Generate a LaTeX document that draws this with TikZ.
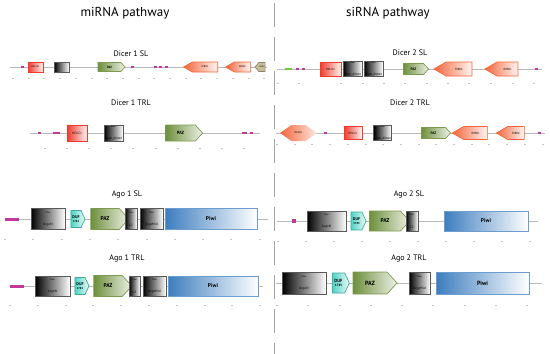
\documentclass[tikz,border=0pt]{standalone}
\usepackage{fontspec}
\setmainfont{PT Sans}
\usepackage{xcolor}
\usepackage{tikz}
\usetikzlibrary{shapes.symbols}

\definecolor{helicred}{HTML}{EE3B2C}
\definecolor{ribored}{HTML}{F2663A}
\definecolor{pazgreen}{HTML}{6E8F3C}
\definecolor{piwiblue}{HTML}{3D7DBF}
\definecolor{dufteal}{HTML}{4FD3C4}
\definecolor{motifpink}{HTML}{C2399B}
\definecolor{dsrmtan}{HTML}{C9BC98}
\definecolor{smgreen}{HTML}{7DC242}

\newcommand{\fs}[1]{\fontsize{#1}{#1}\selectfont}
\newcommand{\pf}[1]{{\fs{2.2}Pfam}\\[0.6pt]{\fs{3.4}#1}}

\begin{document}
\begin{tikzpicture}[x=1pt, y=-1pt,
  trk/.style={draw=gray!55, line width=0.9pt},
  tck/.style={draw=gray!45, line width=0.3pt},
  ttl/.style={font=\fs{13}},
  lbl/.style={font=\fs{8}},
  dom/.style={inner sep=0pt, outer sep=0pt, align=center, line width=0.7pt},
  helic/.style={dom, rectangle, draw=helicred, left color=helicred, right color=helicred!6, font=\fs{2.6}},
  pfam/.style={dom, rectangle, draw=black!65, left color=black, right color=white, line width=0.9pt},
  paz/.style={dom, signal, signal to=east, signal pointer angle=95, draw=pazgreen!90, left color=pazgreen, right color=pazgreen!12, font=\bfseries\fs{3}},
  ribo/.style={dom, signal, signal to=west, signal pointer angle=60, draw=ribored, left color=ribored, right color=ribored!6, font=\fs{2.6}},
  dead/.style={dom, signal, signal to=east and west, signal pointer angle=70, draw=none, left color=ribored, right color=ribored!15, font=\fs{2.6}},
  dsrm/.style={dom, signal, signal to=west, signal pointer angle=100, draw=dsrmtan!70!black, fill=dsrmtan, font=\fs{2}},
  duf/.style={dom, signal, signal to=east, signal pointer angle=130, draw=dufteal!80!black, left color=dufteal, right color=dufteal!10, font=\bfseries\fs{4}},
  piwi/.style={dom, rectangle, draw=piwiblue!75, left color=piwiblue, right color=white, line width=1pt, font=\bfseries\fs{5.5}},
  mot/.style={inner sep=0pt, fill=motifpink, minimum width=3pt, minimum height=2pt}]
\useasboundingbox (0,0) rectangle (550,354);

% titles and divider
\node[ttl] (mi) at (125,13) {miRNA pathway};
\node[ttl] (si) at (388,13) {siRNA pathway};
\coordinate (dvt) at (274,3);
\coordinate (dvb) at (274,354);
\draw[gray!70, line width=0.8pt, dash pattern=on 24pt off 10pt] (dvt) -- (dvb);

% Dicer 1 SL
\node[lbl] (d1s) at (131,54) {Dicer 1 SL};
\coordinate (d1sl) at (10,67); \coordinate (d1sr) at (267,67);
\draw[trk] (d1sl) -- (d1sr);
\foreach \i in {0,...,16} \draw[tck] ({12+15.7*\i},78) -- ++(2,0);
\node[mot] (d1sm1) at (22,67) {};
\node[helic, minimum width=15pt, minimum height=10pt] (d1sh) at (35.5,67) {HELICc};
\node[pfam, minimum width=15pt, minimum height=10pt, font=\fs{2}] (d1sp) at (61.5,67) {};
\node[paz, minimum width=27pt, minimum height=9pt] (d1sz) at (109.5,67) {PAZ};
\foreach \x in {132,155,160,166} \node[mot] at (\x,67) {};
\node[ribo, minimum width=34pt, minimum height=10pt] (d1sr1) at (205,67) {RIBOc};
\node[ribo, minimum width=25pt, minimum height=10pt] (d1sr2) at (242.5,67) {RIBOc};
\node[dsrm, minimum width=10pt, minimum height=9pt] (d1sd) at (262,67) {DSRM};

% Dicer 1 TRL
\node[lbl] (d1t) at (131,103) {Dicer 1 TRL};
\coordinate (d1tl) at (30,133); \coordinate (d1tr) at (260,133);
\draw[trk] (d1tl) -- (d1tr);
\foreach \i in {0,...,9} \draw[tck] ({44+22.1*\i},148) -- ++(2,0);
\node[mot] (d1tm1) at (39,133) {};
\node[mot, minimum width=7pt] (d1tm2) at (56.5,133) {};
\node[helic, minimum width=20pt, minimum height=16pt, font=\fs{3.2}] (d1th) at (77,133) {HELICc};
\node[pfam, minimum width=19pt, minimum height=16pt] (d1tp) at (113.5,133) {\pf{Dicer\_dimer}};
\node[paz, minimum width=37pt, minimum height=16pt, font=\bfseries\fs{4.5}] (d1tz) at (180.5,133) {PAZ};
\node[mot, minimum width=5pt] (d1tm3) at (244.5,133) {};
\node[mot] (d1tm4) at (251.5,133) {};

% Dicer 2 SL
\node[lbl] (d2s) at (410,53) {Dicer 2 SL};
\coordinate (d2sl) at (277,69); \coordinate (d2sr) at (542,69);
\draw[trk] (d2sl) -- (d2sr);
\foreach \x in {277,298,340,362,383,404,426,447,468,490,512,533} \draw[tck] (\x,83) -- ++(2,0);
\node[inner sep=0pt, fill=smgreen, minimum width=7pt, minimum height=2.5pt] (d2sg) at (288.5,69) {};
\foreach \x in {297,303,436,536} \node[mot] at (\x,69) {};
\node[helic, minimum width=21pt, minimum height=14pt, font=\fs{3}] (d2sh) at (330.5,69) {HELICc};
\node[pfam, minimum width=19pt, minimum height=14pt] (d2sp1) at (352.5,69) {\pf{Dicer\_dimer}};
\node[pfam, minimum width=19pt, minimum height=14pt] (d2sp2) at (373.5,69) {\pf{Dicer\_dimer}};
\node[paz, minimum width=25pt, minimum height=11pt, font=\bfseries\fs{3.5}] (d2sz) at (413.5,69) {PAZ};
\node[ribo, minimum width=38pt, minimum height=14pt, font=\fs{3}] (d2sr1) at (459,69) {RIBOc};
\node[ribo, minimum width=33pt, minimum height=14pt, font=\fs{3}] (d2sr2) at (507.5,69) {RIBOc};

% Dicer 2 TRL
\node[lbl] (d2t) at (410,103) {Dicer 2 TRL};
\coordinate (d2tl) at (276,133); \coordinate (d2tr) at (545,133);
\draw[trk] (d2tl) -- (d2tr);
\foreach \i in {0,...,15} \draw[tck] ({276+17.7*\i},144) -- ++(2,0);
\node[dead, minimum width=37pt, minimum height=16pt] (d2td) at (298.5,133) {DEXDc};
\foreach \x in {325,455,539} \node[mot] at (\x,133) {};
\node[helic, minimum width=18pt, minimum height=13pt, font=\fs{3}] (d2th) at (353,133) {HELICc};
\node[pfam, minimum width=17pt, minimum height=13pt] (d2tp) at (382.5,133) {\pf{Dicer\_dimer}};
\node[paz, minimum width=29pt, minimum height=11pt, font=\bfseries\fs{3.5}] (d2tz) at (433.5,133) {PAZ};
\node[ribo, minimum width=35pt, minimum height=13pt, font=\fs{3}] (d2tr1) at (475.5,133) {RIBOc};
\node[ribo, minimum width=28pt, minimum height=13pt, font=\fs{3}] (d2tr2) at (516,133) {RIBOc};

% Ago 1 SL
\node[lbl] (a1s) at (127,194) {Ago 1 SL};
\coordinate (a1sl) at (5,219); \coordinate (a1sr) at (268,219);
\draw[trk] (a1sl) -- (a1sr);
\foreach \i in {0,...,9} \draw[tck] ({4+28.3*\i},239) -- ++(2,0);
\node[mot, minimum width=14pt, minimum height=3pt] (a1sm) at (12,219) {};
\node[pfam, minimum width=34pt, minimum height=21pt] (a1sn) at (48,219) {\pf{ArgoN}};
\node[duf, minimum width=14pt, minimum height=17pt] (a1sd) at (76,219) {DUF\\[-0.5pt]{\fs{2.8}1785}};
\node[paz, minimum width=38pt, minimum height=21pt, font=\bfseries\fs{5.5}] (a1sz) at (105,219) {PAZ};
\node[pfam, minimum width=12pt, minimum height=21pt] (a1sl2) at (131,219) {\pf{L2}};
\node[pfam, minimum width=23pt, minimum height=21pt] (a1sm2) at (151.5,219) {\pf{ArgoMid}};
\node[piwi, minimum width=92pt, minimum height=21pt] (a1sp) at (211,219) {Piwi};

% Ago 1 TRL
\node[lbl] (a1t) at (127,258) {Ago 1 TRL};
\coordinate (a1tl) at (10,286); \coordinate (a1tr) at (263,286);
\draw[trk] (a1tl) -- (a1tr);
\foreach \i in {0,...,9} \draw[tck] ({9+27.8*\i},305) -- ++(2,0);
\node[mot, minimum width=14pt, minimum height=3pt] (a1tm) at (17,286) {};
\node[pfam, minimum width=35pt, minimum height=20pt] (a1tn) at (52.5,286) {\pf{ArgoN}};
\node[duf, minimum width=14pt, minimum height=17pt] (a1td) at (80,286) {DUF\\[-0.5pt]{\fs{2.8}1785}};
\node[paz, minimum width=38pt, minimum height=21pt, font=\bfseries\fs{5.5}] (a1tz) at (108,286) {PAZ};
\node[pfam, minimum width=11pt, minimum height=20pt] (a1tl2) at (134.5,286) {\pf{L2}};
\node[pfam, minimum width=23pt, minimum height=20pt] (a1tm2) at (154.5,286) {\pf{ArgoMid}};
\node[piwi, minimum width=90pt, minimum height=20pt] (a1tp) at (213,286) {Piwi};

% Ago 2 SL
\node[lbl] (a2s) at (409,194) {Ago 2 SL};
\coordinate (a2sl) at (277,221); \coordinate (a2sr) at (538,221);
\draw[trk] (a2sl) -- (a2sr);
\foreach \i in {0,...,9} \draw[tck] ({277+28*\i},241) -- ++(2,0);
\node[mot, minimum width=4pt, minimum height=4pt] (a2sm) at (294,221) {};
\node[pfam, minimum width=39pt, minimum height=20pt] (a2sn) at (326.5,221) {\pf{ArgoN}};
\node[duf, minimum width=15pt, minimum height=18pt] (a2sd) at (356.5,221) {DUF\\[-0.5pt]{\fs{2.8}1785}};
\node[paz, minimum width=40pt, minimum height=20pt, font=\bfseries\fs{5.5}] (a2sz) at (385,221) {PAZ};
\node[pfam, minimum width=12pt, minimum height=20pt] (a2sl2) at (412,221) {\pf{L2}};
\node[piwi, minimum width=84pt, minimum height=20pt] (a2sp) at (486,221) {Piwi};

% Ago 2 TRL
\node[lbl] (a2t) at (409,258) {Ago 2 TRL};
\coordinate (a2tl) at (276,283); \coordinate (a2tr) at (542,283);
\draw[trk] (a2tl) -- (a2tr);
\foreach \i in {0,...,8} \draw[tck] ({276+31.25*\i},305) -- ++(2,0);
\node[pfam, minimum width=44pt, minimum height=22pt] (a2tn) at (304,283) {\pf{ArgoN}};
\node[duf, minimum width=17pt, minimum height=20pt, font=\bfseries\fs{4.5}] (a2td) at (338.5,283) {DUF\\[-0.5pt]{\fs{3.2}1785}};
\node[paz, minimum width=44pt, minimum height=22pt, font=\bfseries\fs{6}] (a2tz) at (370,283) {PAZ};
\node[pfam, minimum width=21pt, minimum height=22pt] (a2tl2) at (419.5,283) {\pf{ArgoMid}};
\node[piwi, minimum width=93pt, minimum height=22pt, font=\bfseries\fs{6}] (a2tp) at (482.5,283) {Piwi};
\end{tikzpicture}
\end{document}
